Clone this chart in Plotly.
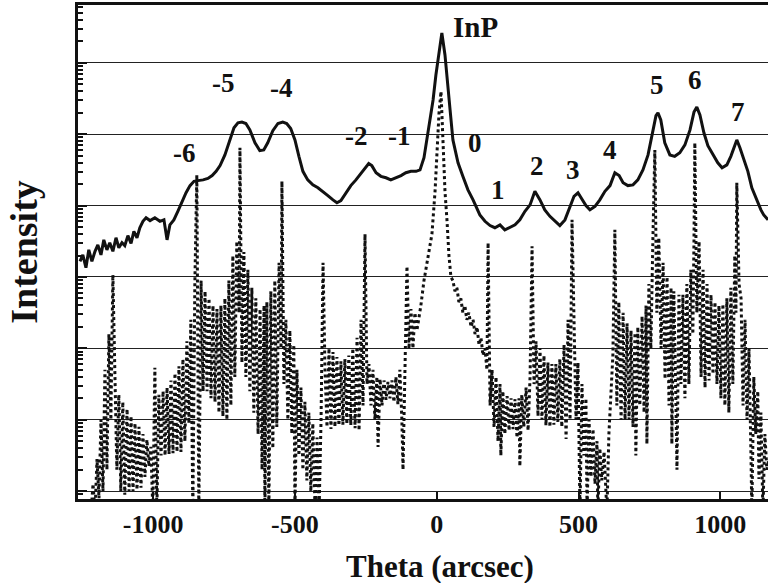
import plotly.graph_objects as go

# ---------------- data ----------------
# measured rocking curve (solid line): theta in arcsec, log10(intensity)
measured_theta = [
    -1258, -1248, -1237, -1227, -1216, -1205, -1195, -1184, -1174, -1163, -1153, -1142,
    -1131, -1121, -1110, -1100, -1089, -1078, -1068, -1057, -1047, -1036, -1025, -1011,
    -994, -976, -962, -951, -941, -927, -913, -898, -884, -870, -856, -842, -824, -807,
    -792, -778, -764, -747, -729, -715, -701, -687, -673, -659, -641, -624, -610, -596,
    -578, -560, -543, -529, -515, -500, -486, -472, -455, -437, -419, -402, -384, -366,
    -352, -338, -320, -303, -285, -267, -250, -240, -229, -214, -197, -179, -162, -144,
    -126, -109, -91, -73, -59, -45, -35, -24, -13, -3, 8, 18, 29, 36, 47, 57, 75, 92,
    110, 128, 152, 170, 188, 205, 223, 240, 258, 276, 293, 311, 329, 346, 364, 381, 399,
    417, 434, 452, 470, 484, 498, 512, 526, 540, 558, 575, 593, 611, 628, 643, 657, 674,
    692, 709, 727, 745, 759, 773, 780, 790, 804, 822, 839, 857, 875, 893, 907, 917, 928,
    942, 956, 974, 991, 1006, 1023, 1037, 1051, 1058, 1069, 1083, 1097, 1111, 1129, 1143,
    1153, 1168,
]
measured_log10 = [
    3.22, 3.31, 3.13, 3.38, 3.22, 3.36, 3.45, 3.31, 3.52, 3.38, 3.48, 3.36,
    3.55, 3.41, 3.48, 3.44, 3.58, 3.47, 3.64, 3.55, 3.69, 3.78, 3.83, 3.79,
    3.83, 3.78, 3.80, 3.52, 3.73, 3.80, 3.92, 4.06, 4.18, 4.28, 4.34, 4.35, 4.36, 4.38,
    4.42, 4.48, 4.56, 4.71, 4.92, 5.09, 5.16, 5.17, 5.15, 5.06, 4.88, 4.77, 4.78, 4.88,
    5.05, 5.15, 5.17, 5.15, 5.08, 4.92, 4.69, 4.48, 4.36, 4.29, 4.25, 4.20, 4.14, 4.08,
    4.04, 4.07, 4.17, 4.28, 4.36, 4.45, 4.53, 4.59, 4.56, 4.46, 4.41, 4.39, 4.36, 4.39,
    4.42, 4.46, 4.48, 4.48, 4.50, 4.67, 4.92, 5.23, 5.48, 5.83, 6.18, 6.42, 6.11, 5.76, 5.34, 4.92, 4.60, 4.41,
    4.22, 4.08, 3.87, 3.78, 3.72, 3.69, 3.73, 3.66, 3.69, 3.73, 3.80, 3.92, 4.01, 4.20, 4.08, 3.94, 3.85,
    3.78, 3.72, 3.80, 3.99, 4.13, 4.18, 4.08, 4.00, 3.94, 3.99, 4.08, 4.20, 4.28, 4.46, 4.42, 4.32, 4.28,
    4.29, 4.36, 4.50, 4.71, 4.99, 5.26, 5.30, 5.20, 4.88, 4.71, 4.69, 4.74, 4.85, 5.06, 5.31, 5.38, 5.27,
    5.02, 4.84, 4.71, 4.60, 4.53, 4.57, 4.69, 4.85, 4.92, 4.81, 4.64, 4.48, 4.25, 4.06, 3.94,
    3.87, 3.80,
]

# simulated curve (dotted line): theta in arcsec, log10(intensity)
sim_theta = [
    -1219, -1212, -1205, -1198, -1191, -1184, -1177, -1170, -1163, -1156, -1149, -1142,
    -1128, -1121, -1114, -1107, -1100, -1092, -1085, -1078, -1071, -1064, -1057, -1050,
    -1043, -1036, -1029, -1022, -1015, -1008, -1001, -994, -987,
    -980, -972, -965, -958, -951, -944, -937, -930, -923, -916, -909, -902, -895, -888,
    -881, -874, -867, -860, -853, -846, -839,
    -831, -824, -817, -810, -803, -796, -789, -782, -775, -768, -761, -754, -747, -740,
    -733, -726, -719, -712, -705, -697, -694,
    -687, -680, -673, -666, -659, -652, -645, -638, -630, -623, -616, -609, -606, -599,
    -592, -585, -578, -571, -564, -556, -549, -546,
    -539, -532, -525, -518, -511, -504, -500, -493, -486, -479, -472, -465, -458, -451,
    -444, -437, -429, -422, -415, -408, -401,
    -394, -387, -380, -373, -366, -359, -352, -345, -338, -331, -324, -317, -310, -303,
    -296, -288, -281, -274, -267, -260, -253,
    -246, -239, -232, -225, -218, -211, -207, -200, -193, -186, -179, -172, -165, -158,
    -151, -144, -137, -130, -123, -119, -112, -105,
    -98, -91, -84, -77, -70, -63, -56, -45, -31, -17, -6, 1, 8, 15, 22, 29, 36, 43, 50,
    57, 64, 71, 78, 85, 92, 99, 106, 113, 121, 128, 135, 142, 149, 156, 163, 170, 177, 181,
    188, 195, 202, 209, 216, 223, 226, 233, 240, 248, 255, 262, 269, 276, 283, 290, 293,
    300, 307, 315, 322, 329, 336,
    343, 350, 357, 364, 371, 378, 385, 392, 399, 406, 413, 420, 427, 434, 441, 449, 456,
    463, 470, 477,
    484, 491, 498, 505, 512, 519, 526, 530, 537, 544, 551, 558, 565, 568, 575, 582, 590,
    597, 600, 607, 614, 621, 628,
    635, 642, 650, 657, 664, 671, 678, 685, 692, 699, 702, 709, 716, 724, 731, 738, 741,
    748, 755, 762, 769,
    776, 783, 791, 798, 805, 812, 819, 826, 829, 836, 843, 847, 854, 861, 868, 875, 882,
    889, 896, 903, 907, 910,
    917, 925, 932, 939, 946, 953, 960, 967, 974, 981, 988, 995, 1002, 1009, 1016, 1023,
    1030, 1037, 1044, 1051, 1055, 1058,
    1066, 1073, 1080, 1087, 1094, 1101, 1108, 1111, 1118, 1125, 1132, 1136, 1143, 1150,
    1157, 1164, 1171,
]
sim_log10 = [
    -0.3, 0.1, -0.3, 0.45, -0.1, 1.0, 0.0, 1.7, 0.3, 2.2, 1.0, 3.03,
    0.3, 1.35, 0.0, 1.25, -0.05, 1.15, 0.0, 1.05, 0.0, 0.95, 0.02, 0.9,
    0.05, 0.8, 0.2, 0.72, 0.35, 0.62, -0.3, 1.73, -0.3,
    1.35, 0.5, 1.4, 0.5, 1.45, 0.52, 1.55, 0.53, 1.65, 0.55, 1.75, 0.55, 1.85, 0.7,
    2.1, 0.95, 2.4, -0.3, 2.9, 4.43, -0.3,
    2.95, 1.4, 2.8, 1.4, 2.7, 1.3, 2.6, 1.25, 2.55, 1.1, 2.6, 1.05, 2.7, 1.0,
    2.95, 1.2, 3.3, 1.6, 3.5, 2.5, 4.81,
    1.8, 3.35, 1.6, 3.1, 1.4, 2.85, 1.1, 2.7, 0.8, 2.55, 0.3, 2.6, -0.3, 2.65,
    -0.3, 2.8, 0.6, 2.95, 0.9, 3.2, 2.0, 4.34,
    1.5, 2.4, 1.0, 2.25, 0.8, 2.05, -0.3, 1.7, 0.5, 1.45, 0.3, 1.25, 0.15, 1.1,
    0.0, 0.95, -0.3, 0.75, -0.3, 1.0, 3.2,
    1.7, 0.9, 2.0, 0.87, 1.95, 0.9, 1.88, 0.92, 1.82, 0.93, 1.85, 0.94, 1.9, 0.92,
    2.0, 0.88, 2.15, 0.85, 2.4, 1.2, 3.6,
    1.5, 1.78, 1.2, 1.7, 1.0, 1.6, 0.62, 1.57, 1.2, 1.55, 1.28, 1.53, 1.3, 1.55,
    1.25, 1.6, 1.22, 1.7, 1.0, 0.3, 1.8, 3.15,
    1.99, 2.55, 2.0, 2.5, 2.25, 2.4, 2.6, 2.95, 3.3, 3.6, 4.2, 4.8, 5.3, 5.6, 4.9, 4.2, 3.8, 3.3, 3.0,
    2.95, 2.8, 2.85, 2.65, 2.7, 2.5, 2.6, 2.4, 2.5, 2.3, 2.4, 2.2, 2.3, 2.05, 2.15, 1.9, 2.0, 1.7, 3.48,
    1.2, 1.7, 0.9, 1.6, 0.7, 1.5, 0.5, 1.4, 0.8, 1.33, 0.85, 1.3, 0.87, 1.29, 0.75, 1.3, 0.35,
    1.35, 0.9, 1.45, 0.85, 1.6, 3.43,
    1.5, 2.1, 1.05, 2.0, 1.0, 1.9, 0.92, 1.8, 0.9, 1.78, 0.93, 1.78, 0.97, 1.85, 0.9, 2.05, 0.73,
    2.4, 1.0, 3.8,
    2.2, 1.0, 1.8, -0.3, 1.5, 0.5, 1.3, -0.3, 1.0, 0.2, 0.87, 0.1, 0.7, -0.3, 0.6, 0.15, 0.55,
    0.1, -0.3, 0.8, 1.3, 1.9, 3.66,
    1.2, 2.65, 1.0, 2.5, 1.0, 2.35, 1.0, 2.25, 0.9, 2.22, 0.5, 2.3, 1.2, 2.45, 1.1, 2.6, 0.66,
    2.9, 2.0, 3.5, 4.78,
    2.5, 3.55, 2.0, 3.2, 1.57, 3.0, 1.2, 2.85, 0.66, 2.8, 1.3, 0.3, 2.75, 1.5, 2.75, 1.3, 2.9,
    1.5, 3.1, 2.2, 3.5, 4.88,
    2.5, 3.5, 1.6, 3.1, 1.45, 2.9, 1.55, 2.75, 1.64, 2.65, 1.5, 2.6, 1.3, 2.62, 1.2, 2.7,
    1.1, 2.85, 1.5, 3.3, 2.5, 4.32,
    2.9, 2.7, 1.2, 2.4, 1.0, 2.0, 0.5, -0.3, 1.6, 0.8, 1.4, 0.17, 1.1, -0.3,
    0.8, 0.3, 0.45,
]

x_tick_values = [-1000, -500, 0, 500, 1000]
x_tick_labels = ["-1000", "-500", "0", "500", "1000"]

peak_labels = ["-6", "-5", "-4", "-2", "-1", "InP", "0", "1", "2", "3", "4", "5", "6", "7"]
peak_label_theta = [-888, -753, -546, -282, -130, 135, 135, 216, 353, 480, 611, 777, 911, 1062]
peak_label_log10 = [4.74, 5.72, 5.65, 4.97, 4.97, 6.50, 4.88, 4.22, 4.55, 4.50, 4.78, 5.69, 5.76, 5.31]

# ---------------- figure ----------------
SERIF = "Liberation Serif, Times New Roman, serif"
INK = "#111111"

fig = go.Figure()
fig.add_trace(go.Scatter(
    x=sim_theta, y=[10 ** v for v in sim_log10], mode="lines",
    line=dict(color=INK, width=3, dash="dot"), showlegend=False,
))
fig.add_trace(go.Scatter(
    x=measured_theta, y=[10 ** v for v in measured_log10], mode="lines",
    line=dict(color=INK, width=3), showlegend=False,
))

for txt, tx, ty in zip(peak_labels, peak_label_theta, peak_label_log10):
    fig.add_annotation(x=tx, y=ty, xref="x", yref="y", text=txt, showarrow=False,
                       font=dict(family=SERIF, size=29 if txt == "InP" else 27,
                                 color=INK, weight="bold"))

# x-axis title (placed in paper coordinates of the plot area)
fig.add_annotation(x=(440 - 78) / 690, y=-(566 - 499) / 494, xref="paper", yref="paper",
                   text="Theta (arcsec)", showarrow=False, xanchor="center", yanchor="middle",
                   font=dict(family=SERIF, size=31, color=INK, weight="bold"))

fig.update_layout(
    width=768, height=583,
    margin=dict(l=78, r=0, t=5, b=84),
    paper_bgcolor="white", plot_bgcolor="white",
    showlegend=False,
    xaxis=dict(
        range=[-1265, 1168], tickmode="array", tickvals=x_tick_values, ticktext=x_tick_labels,
        ticks="inside", ticklen=7, tickwidth=2, tickcolor=INK,
        showline=True, linewidth=3, linecolor=INK, mirror=True,
        showgrid=False, zeroline=False,
        tickfont=dict(family=SERIF, size=26, color=INK, weight="bold"),
    ),
    yaxis=dict(
        type="log", range=[-0.11, 6.81], dtick=1, showticklabels=False,
        ticks="inside", ticklen=9, tickwidth=2, tickcolor=INK,
        minor=dict(ticks="inside", ticklen=5, tickwidth=1.5, tickcolor=INK, showgrid=False),
        showline=True, linewidth=3, linecolor=INK, mirror=False,
        showgrid=True, gridcolor="#222222", gridwidth=1.2, zeroline=False,
        title=dict(text="Intensity", standoff=26,
                   font=dict(family=SERIF, size=38, color=INK, weight="bold")),
    ),
)

fig.write_html("out.html")
